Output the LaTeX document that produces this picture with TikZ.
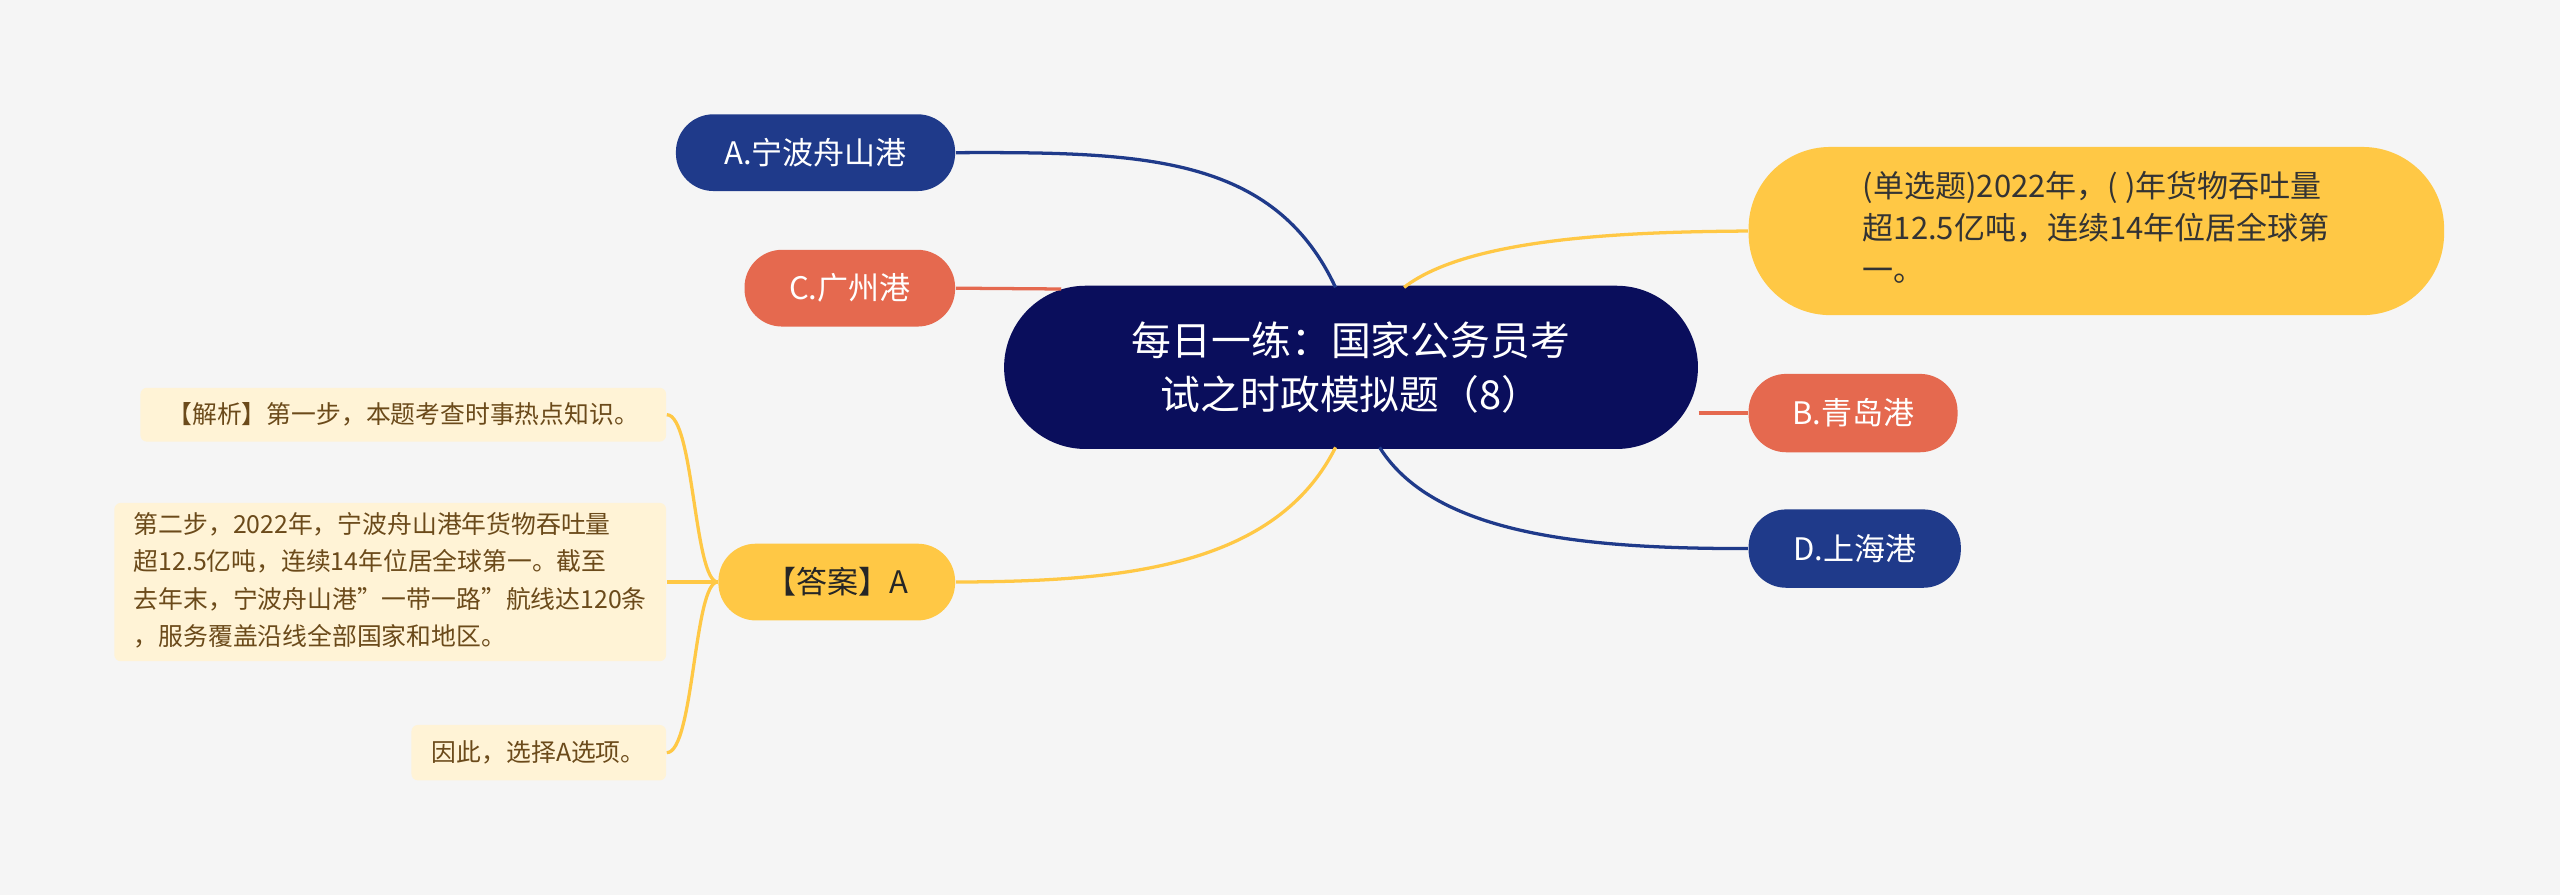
\documentclass[tikz,border=0pt]{standalone}
\usepackage{fontspec}
\setmainfont{Noto Sans CJK SC}
\definecolor{bg}{HTML}{F5F5F5}
\definecolor{navy}{HTML}{0A0E5C}
\definecolor{blue}{HTML}{1F3A8A}
\definecolor{salmon}{HTML}{E5694F}
\definecolor{yel}{HTML}{FFC845}
\definecolor{note}{HTML}{FFF3D6}
\definecolor{notetxt}{HTML}{6B4A1A}
\begin{document}
\begin{tikzpicture}[x=0.5pt,y=-0.5pt,
  pill/.style={rounded corners=11.5pt,inner sep=0pt,font=\fontsize{9.5pt}{12pt}\selectfont},
  notebox/.style={fill=note,rounded corners=2pt,inner sep=0pt,text=notetxt,font=\fontsize{7.6pt}{11.5pt}\selectfont},
  conn/.style={line width=1pt}]
\fill[bg] (0,0) rectangle (1568,548);
\useasboundingbox (0,0) rectangle (1568,548);
\node[fill=navy,rounded corners=25pt,minimum width=212.5pt,minimum height=50pt,text=white,align=center,font=\fontsize{12.2pt}{16.5pt}\selectfont] (c) at (827.5,225) {每日一练：国家公务员考\\试之时政模拟题（8）};
\node[pill,fill=blue,text=white,minimum width=85.5pt,minimum height=23.5pt] (a) at (499.5,93.5) {A.宁波舟山港};
\node[pill,fill=salmon,text=white,minimum width=64.5pt,minimum height=23.5pt] (cz) at (520.5,176.5) {C.广州港};
\node[fill=yel,rounded corners=25pt,minimum width=213pt,minimum height=51.5pt,text=black!80,font=\fontsize{9.5pt}{13pt}\selectfont] (q) at (1284,141.5) {\begin{tabular}{@{}l@{}}(单选题)2022年，( )年货物吞吐量\\超12.5亿吨，连续14年位居全球第\\一。\end{tabular}};
\node[pill,fill=salmon,text=white,minimum width=64pt,minimum height=24pt] (b) at (1135,253) {B.青岛港};
\node[pill,fill=blue,text=white,minimum width=65pt,minimum height=24pt] (d) at (1136,336) {D.上海港};
\node[pill,fill=yel,text=black!85,minimum width=72.5pt,minimum height=23.5pt] (ans) at (512.5,356.5) {【答案】A};
\node[notebox,minimum width=161pt,minimum height=16.5pt] (n1) at (247,254) {【解析】第一步，本题考查时事热点知识。};
\node[notebox,minimum width=169pt,minimum height=48.5pt] (n2) at (239,356.5) {\begin{tabular}{@{}l@{}}第二步，2022年，宁波舟山港年货物吞吐量\\超12.5亿吨，连续14年位居全球第一。截至\\去年末，宁波舟山港"一带一路"航线达120条\\，服务覆盖沿线全部国家和地区。\end{tabular}};
\node[notebox,minimum width=78pt,minimum height=17pt] (n3) at (330,461) {因此，选择A选项。};
\draw[conn,blue] (818,176) .. controls (780,95) and (700,93) .. (a.east);
\draw[conn,salmon] (cz.east) -- (650,177);
\draw[conn,yel] (860,176) .. controls (900,145) and (1000,142) .. (q.west);
\draw[conn,salmon] (c.east|-b.west) -- (b.west);
\draw[conn,blue] (845,274) .. controls (880,330) and (980,336) .. (d.west);
\draw[conn,yel] (818,274) .. controls (780,350) and (680,356) .. (ans.east);
\draw[conn,yel] (n2.east) -- (ans.west);
\draw[conn,yel] (ans.west) .. controls (425,356) and (425,254) .. (n1.east);
\draw[conn,yel] (ans.west) .. controls (425,356) and (425,461) .. (n3.east);
\end{tikzpicture}
\end{document}
